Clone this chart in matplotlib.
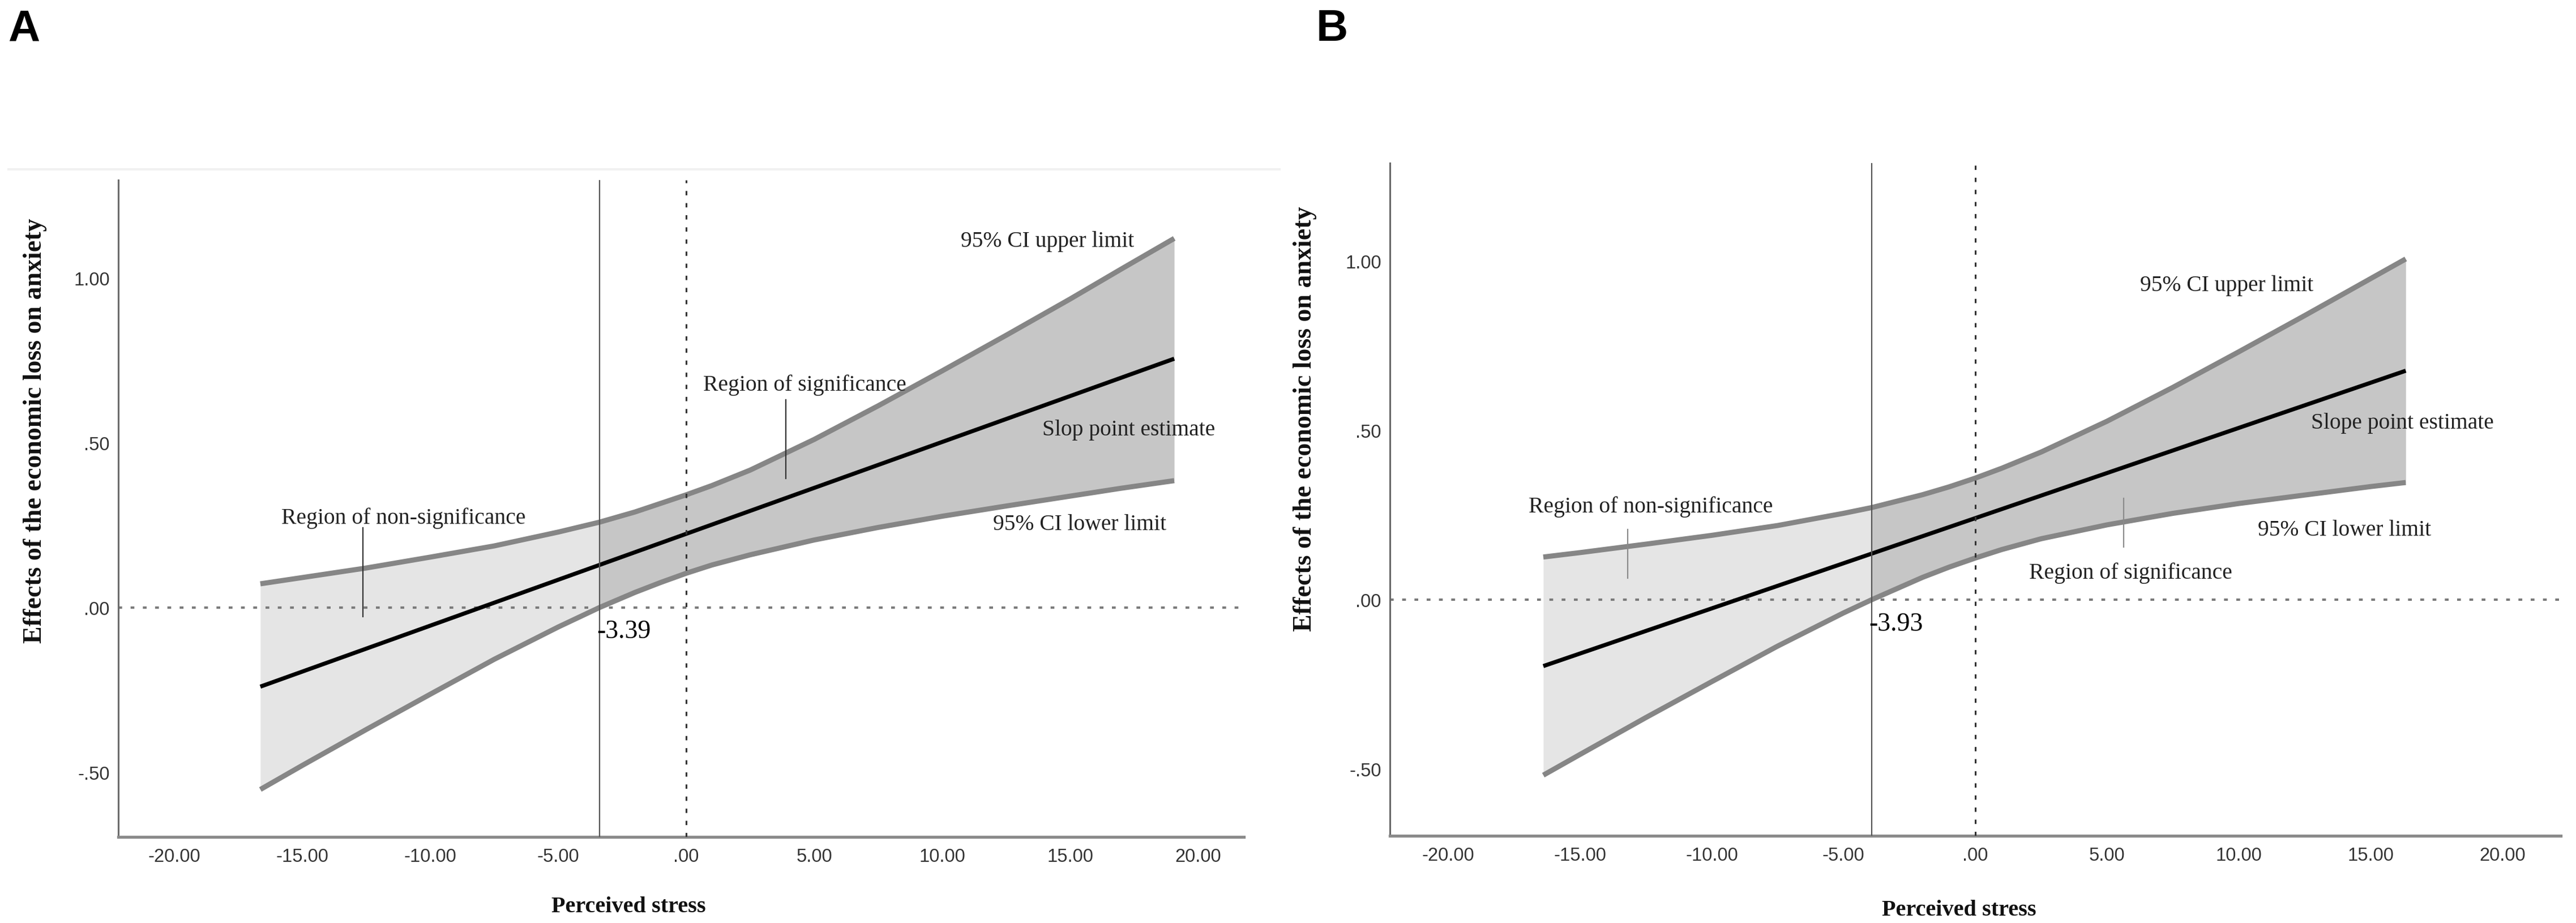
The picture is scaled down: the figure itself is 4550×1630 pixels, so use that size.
import matplotlib
matplotlib.use("Agg")
import matplotlib.pyplot as plt
import numpy as np

# ---------------- data ----------------
# Panel A
stress_a = [-16.64, -15.0, -12.5, -10.0, -7.5, -5.0, -3.39, -2.0, -1.0, 0.0, 1.0, 2.5, 5.0, 7.5, 10.0, 12.5, 15.0, 17.0, 19.07]
upper_a = [0.072, 0.091, 0.120, 0.153, 0.187, 0.229, 0.259, 0.290, 0.316, 0.342, 0.370, 0.417, 0.510, 0.612, 0.718, 0.826, 0.936, 1.027, 1.120]
lower_a = [-0.552, -0.479, -0.370, -0.263, -0.157, -0.059, 0.000, 0.046, 0.076, 0.104, 0.129, 0.160, 0.205, 0.243, 0.277, 0.308, 0.338, 0.362, 0.385]
mean_x_a = [-16.64, 19.07]
mean_a = [-0.240, 0.755]
jn_a = -3.39

# Panel B
stress_b = [-16.39, -15.0, -12.5, -10.0, -7.5, -5.0, -3.93, -2.0, -1.0, 0.0, 1.0, 2.5, 5.0, 7.5, 10.0, 12.5, 15.0, 16.33]
upper_b = [0.126, 0.139, 0.164, 0.190, 0.219, 0.255, 0.272, 0.310, 0.333, 0.359, 0.388, 0.436, 0.527, 0.627, 0.732, 0.839, 0.948, 1.006]
lower_b = [-0.518, -0.457, -0.348, -0.242, -0.137, -0.039, 0.000, 0.066, 0.096, 0.123, 0.148, 0.180, 0.221, 0.255, 0.284, 0.309, 0.334, 0.346]
mean_x_b = [-16.39, 16.33]
mean_b = [-0.196, 0.676]
jn_b = -3.93

x_ticks = [-20, -15, -10, -5, 0, 5, 10, 15, 20]
x_tick_labels = ["-20.00", "-15.00", "-10.00", "-5.00", ".00", "5.00", "10.00", "15.00", "20.00"]
y_ticks = [-0.5, 0.0, 0.5, 1.0]
y_tick_labels = ["-.50", ".00", ".50", "1.00"]

x_label = "Perceived stress"
y_label = "Effects of the economic loss on anxiety"

# ---------------- figure ----------------
W, H = 4550, 1631
fig = plt.figure(figsize=(W / 100, H / 100), dpi=100)
fig.patch.set_facecolor("white")

def fx(px):
    return px / W

def fy(py):
    return 1 - py / H

SERIF = ["Liberation Serif", "DejaVu Serif"]
SANS = ["Liberation Sans", "DejaVu Sans"]

def draw_panel(rect, xlim, ylim, xs, up, lo, mx, my, jn, jn_label,
               labels, sig_line, nonsig_line, ann_color):
    ax = fig.add_axes(rect)
    ax.set_xlim(*xlim)
    ax.set_ylim(*ylim)
    xs = np.asarray(xs); up = np.asarray(up); lo = np.asarray(lo)
    ax.fill_between(xs, lo, up, where=xs <= jn, color="#e5e5e5", lw=0, zorder=1)
    ax.fill_between(xs, lo, up, where=xs >= jn, color="#c6c6c6", lw=0, zorder=1)
    ax.plot(xs, up, color="#868686", lw=6.5, solid_capstyle="butt",
            solid_joinstyle="round", zorder=3)
    ax.plot(xs, lo, color="#868686", lw=6.5, solid_capstyle="butt",
            solid_joinstyle="round", zorder=3)
    ax.plot(mx, my, color="black", lw=5.2, solid_capstyle="butt", zorder=4)
    # reference lines
    ax.axhline(0, color="#7a7a7a", lw=3.0, ls=(0, (1.6, 3.6)), zorder=2)
    ax.axvline(0, color="#333333", lw=2.2, ls=(0, (2.5, 4.5)), zorder=5)
    ax.axvline(jn, color="#555555", lw=1.6, zorder=5)
    ax.text(jn - 0.1, -0.072, jn_label, ha="left", va="center",
            fontsize=33, family=SERIF, color="black", zorder=6)
    for txt, x, y in labels:
        ax.text(x, y, txt, ha="center", va="center", fontsize=28.5,
                family=SERIF, color="#222222", zorder=6)
    ax.plot([sig_line[0], sig_line[0]], [sig_line[1], sig_line[2]],
            color=ann_color, lw=1.6, zorder=6)
    ax.plot([nonsig_line[0], nonsig_line[0]], [nonsig_line[1], nonsig_line[2]],
            color=ann_color, lw=1.6, zorder=6)
    # axes styling
    for s in ["top", "right"]:
        ax.spines[s].set_visible(False)
    ax.spines["left"].set_color("#6a6a6a")
    ax.spines["left"].set_linewidth(2.2)
    ax.spines["bottom"].set_color("#8a8a8a")
    ax.spines["bottom"].set_linewidth(3.8)
    ax.set_xticks(x_ticks)
    ax.set_xticklabels(x_tick_labels)
    ax.set_yticks(y_ticks)
    ax.set_yticklabels(y_tick_labels)
    ax.tick_params(axis="both", length=0, labelsize=23.5, colors="#333333")
    ax.tick_params(axis="x", pad=14)
    ax.tick_params(axis="y", pad=11)
    for t in ax.get_xticklabels() + ax.get_yticklabels():
        t.set_family(SANS)
    return ax

# Panel A
axA = draw_panel(
    [fx(209), fy(1479), fx(2197) - fx(209), fy(319) - fy(1479)],
    (-22.19, 21.79), (-0.696, 1.297),
    stress_a, upper_a, lower_a, mean_x_a, mean_a, jn_a, "-3.39",
    [("95% CI upper limit", 14.12, 1.113),
     ("Slop point estimate", 17.30, 0.540),
     ("95% CI lower limit", 15.38, 0.253),
     ("Region of significance", 4.62, 0.677),
     ("Region of non-significance", -11.04, 0.273)],
    (3.89, 0.631, 0.392), (-12.63, 0.242, -0.027), "#333333")

# Panel B
axB = draw_panel(
    [fx(2455), fy(1477), fx(4523) - fx(2455), fy(289) - fy(1477)],
    (-22.21, 22.21), (-0.697, 1.289),
    stress_b, upper_b, lower_b, mean_x_b, mean_b, jn_b, "-3.93",
    [("95% CI upper limit", 9.54, 0.928),
     ("Slope point estimate", 16.20, 0.523),
     ("95% CI lower limit", 14.01, 0.207),
     ("Region of significance", 5.89, 0.080),
     ("Region of non-significance", -12.31, 0.276)],
    (5.63, 0.299, 0.156), (-13.19, 0.207, 0.064), "#8a8a8a")

# axis titles
fig.text(fx(62), fy(761), y_label, rotation=90, ha="center", va="center",
         fontsize=33, fontweight="bold", family=SERIF, color="#111111")
fig.text(fx(2305), fy(740), y_label, rotation=90, ha="center", va="center",
         fontsize=33, fontweight="bold", family=SERIF, color="#111111")
fig.text(fx(1110), fy(1602), x_label, ha="center", va="center",
         fontsize=29, fontweight="bold", family=SERIF, color="#111111")
fig.text(fx(3460), fy(1608), x_label, ha="center", va="center",
         fontsize=29, fontweight="bold", family=SERIF, color="#111111")

# panel letters
fig.text(fx(14), fy(72), "A", ha="left", va="baseline", fontsize=56,
         fontweight="bold", family=SANS, color="black")
fig.text(fx(2325), fy(72), "B", ha="left", va="baseline", fontsize=56,
         fontweight="bold", family=SANS, color="black")

# faint screenshot border line above panel A
fig.add_artist(plt.Line2D([fx(15), fx(2260)], [fy(300), fy(300)],
                          color="#f1f1f1", lw=3, transform=fig.transFigure))

fig.savefig("out.png", dpi=100, facecolor="white")
